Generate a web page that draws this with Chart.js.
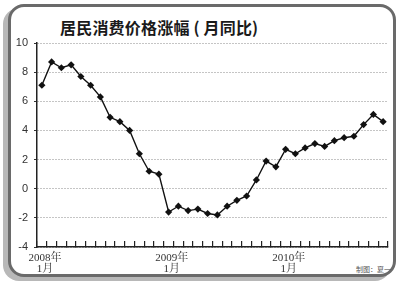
<!DOCTYPE html>
<html>
<head>
<meta charset="utf-8">
<script src="https://cdn.jsdelivr.net/npm/chart.js@4.4.0/dist/chart.umd.min.js"></script>
<style>
  html, body { margin: 0; padding: 0; background: #fff; }
  #wrap { position: relative; width: 400px; height: 285px; overflow: hidden; background: #fff; }
  #frame {
    position: absolute; left: 8px; top: 4px; width: 382px; height: 267px;
    border: 3px solid #6a6a6a; border-radius: 16px; background: #fff;
    box-shadow: -5px 4px 0 #b8b8b8;
  }
  #title {
    position: absolute; left: 60px; top: 15px; font-family: "Noto Sans CJK SC", sans-serif;
    font-size: 16px; font-weight: 700; color: #1a1a1a; white-space: nowrap; letter-spacing: 0.2px;
  }
  #credit {
    position: absolute; left: 356px; top: 264px; font-family: "Noto Sans CJK SC", sans-serif;
    font-size: 7px; color: #555; white-space: nowrap;
  }
  #c { position: absolute; left: 0; top: 0; }
</style>
</head>
<body>
<div id="wrap">
  <div id="frame"></div>
  <div id="title">居民消费价格涨幅 ( 月同比)</div>
  <div id="credit">制图：夏一</div>
  <canvas id="c" width="400" height="285"></canvas>
</div>
<script>
// Months Jan 2008 .. Dec 2010
const months = [
  '2008-01','2008-02','2008-03','2008-04','2008-05','2008-06','2008-07','2008-08','2008-09','2008-10','2008-11','2008-12',
  '2009-01','2009-02','2009-03','2009-04','2009-05','2009-06','2009-07','2009-08','2009-09','2009-10','2009-11','2009-12',
  '2010-01','2010-02','2010-03','2010-04','2010-05','2010-06','2010-07','2010-08','2010-09','2010-10','2010-11','2010-12'
];
const cpiYoY = [
  7.1, 8.7, 8.3, 8.5, 7.7, 7.1, 6.3, 4.9, 4.6, 4.0, 2.4, 1.2,
  1.0, -1.6, -1.2, -1.5, -1.4, -1.7, -1.8, -1.2, -0.8, -0.5, 0.6, 1.9,
  1.5, 2.7, 2.4, 2.8, 3.1, 2.9, 3.3, 3.5, 3.6, 4.4, 5.1, 4.6
];
// tick label text keyed by the category where it appears in the picture
const xTickLabels = { '2008-01': ['2008年', '1月'], '2009-02': ['2009年', '1月'], '2010-02': ['2010年', '1月'] };
const yMin = -4, yMax = 10, yStep = 2;

new Chart(document.getElementById('c'), {
  type: 'line',
  data: {
    labels: months,
    datasets: [{
      data: cpiYoY,
      borderColor: '#111',
      borderWidth: 1.4,
      backgroundColor: '#111',
      pointStyle: 'rectRot',
      pointRadius: 3.6,
      pointBorderWidth: 0,
      tension: 0,
      fill: false
    }]
  },
  options: {
    responsive: false,
    animation: false,
    devicePixelRatio: 1,
    layout: { padding: { left: 0, right: 12, top: 43, bottom: 8 } },
    plugins: { legend: { display: false }, tooltip: { enabled: false }, title: { display: false } },
    scales: {
      x: {
        type: 'category',
        offset: true,
        afterFit: s => { s.height = 30; },
        grid: {
          offset: true, drawOnChartArea: false, drawTicks: true, tickLength: -6,
          color: '#222', tickColor: '#222', lineWidth: 1.2, tickWidth: 1.2
        },
        border: { display: true, color: '#222', width: 1.5 },
        ticks: {
          autoSkip: false, maxRotation: 0, padding: 12, labelOffset: 3,
          color: '#333',
          font: { family: "'Liberation Serif', 'Noto Serif CJK SC', 'Noto Sans CJK SC', serif", size: 11, lineHeight: 1.0 },
          callback: function (v, i) { const k = months[i]; return xTickLabels[k] || ''; }
        }
      },
      y: {
        min: yMin, max: yMax,
        afterFit: s => { s.width = 37; },
        grid: {
          color: '#8a8a8a', lineWidth: 1, drawTicks: true, tickLength: 3,
          tickColor: '#333', tickBorderDash: []
        },
        border: { display: true, color: '#222', width: 1.5, dash: [1, 2] },
        ticks: {
          stepSize: yStep, padding: 6, color: '#333',
          font: { family: "'Liberation Sans', Arial, sans-serif", size: 11 }
        }
      }
    }
  }
});
</script>
</body>
</html>
